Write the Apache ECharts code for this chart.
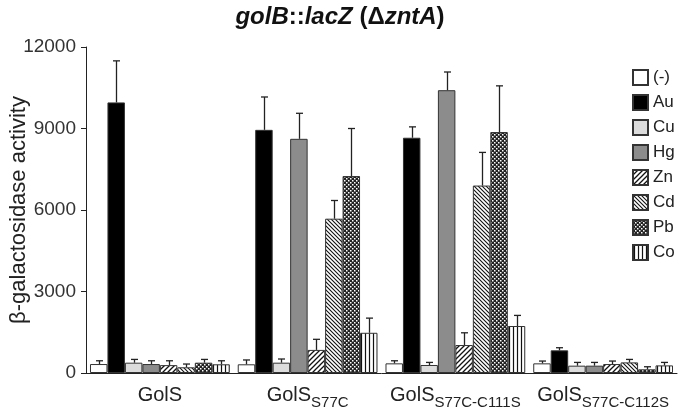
<!DOCTYPE html>
<html>
<head>
<meta charset="utf-8">
<script src="https://cdn.jsdelivr.net/npm/echarts@6/dist/echarts.min.js"></script>
<style>
  html, body { margin: 0; padding: 0; background: #fff; }
  #chart { width: 680px; height: 410px; }
</style>
</head>
<body>
<div id="chart"></div>
<script>
// groups (strain) -- the part after "_" is written as a subscript
var categories = ['GolS', 'GolS_S77C', 'GolS_S77C-C111S', 'GolS_S77C-C112S'];
var metals = ['(-)', 'Au', 'Cu', 'Hg', 'Zn', 'Cd', 'Pb', 'Co'];

// mean activity per group
var none = [330, 320, 355, 355];
var au = [9960, 8950, 8660, 835];
var cu = [380, 380, 295, 270];
var hg = [330, 8620, 10410, 270];
var zn = [290, 850, 1030, 330];
var cd = [210, 5680, 6900, 390];
var pb = [380, 7250, 8870, 135];
var co = [320, 1480, 1730, 280];

// standard deviation (upper error bar only)
var noneErr = [120, 160, 95, 85];
var auErr = [1530, 1210, 400, 95];
var cuErr = [120, 135, 95, 120];
var hgErr = [120, 940, 670, 120];
var znErr = [160, 390, 450, 110];
var cdErr = [120, 670, 1220, 110];
var pbErr = [120, 1750, 1700, 95];
var coErr = [130, 540, 390, 110];

var yTicks = [0, 3000, 6000, 9000, 12000];

var means = [none, au, cu, hg, zn, cd, pb, co];
var errs = [noneErr, auErr, cuErr, hgErr, znErr, cdErr, pbErr, coErr];

var FONT = '"Liberation Sans", Arial, sans-serif';
var GAP = 0.054;

function pattern(size, bg, draw) {
  var c = document.createElement('canvas');
  c.width = size; c.height = size;
  var ctx = c.getContext('2d');
  ctx.fillStyle = bg;
  ctx.fillRect(0, 0, size, size);
  ctx.strokeStyle = '#111';
  ctx.fillStyle = '#111';
  draw(ctx, size);
  return { image: c, repeat: 'repeat' };
}

// Zn: "/" lines
var znFill = pattern(5, '#fff', function (ctx, s) {
  ctx.lineWidth = 1.3;
  ctx.beginPath();
  ctx.moveTo(0, s); ctx.lineTo(s, 0);
  ctx.moveTo(-1, 1); ctx.lineTo(1, -1);
  ctx.moveTo(s - 1, s + 1); ctx.lineTo(s + 1, s - 1);
  ctx.stroke();
});
// Cd: "\" lines, denser
var cdFill = pattern(4, '#fff', function (ctx, s) {
  ctx.lineWidth = 1.1;
  ctx.beginPath();
  ctx.moveTo(0, 0); ctx.lineTo(s, s);
  ctx.moveTo(-1, s - 1); ctx.lineTo(1, s + 1);
  ctx.moveTo(s - 1, -1); ctx.lineTo(s + 1, 1);
  ctx.stroke();
});
// Pb: dark with small white dots
var pbFill = pattern(4, '#222', function (ctx, s) {
  ctx.fillStyle = '#fff';
  ctx.fillRect(0, 0, 1.5, 1.5);
  ctx.fillRect(2, 2, 1.5, 1.5);
});
// Co: vertical lines
var coFill = pattern(4, '#fff', function (ctx, s) {
  ctx.lineWidth = 1.2;
  ctx.beginPath();
  ctx.moveTo(1.5, 0); ctx.lineTo(1.5, s);
  ctx.stroke();
});

var fills = ['#ffffff', '#000000', '#dcdcdc', '#8c8c8c', znFill, cdFill, pbFill, coFill];

var series = metals.map(function (m, i) {
  return {
    name: m,
    type: 'bar',
    data: means[i],
    barGap: '0%',
    barCategoryGap: (GAP * 100) + '%',
    itemStyle: { color: fills[i], borderColor: '#333', borderWidth: 1 }
  };
});

var errData = [];
for (var k = 0; k < metals.length; k++) {
  for (var c = 0; c < categories.length; c++) {
    errData.push([c, k, means[k][c], errs[k][c]]);
  }
}

series.push({
  type: 'custom',
  name: 'err',
  z: 3,
  encode: { x: 0, y: 2 },
  data: errData,
  renderItem: function (params, api) {
    var cat = api.value(0), k = api.value(1), m = api.value(2), sd = api.value(3);
    var base = api.coord([cat, m]);
    var top = api.coord([cat, m + sd]);
    var band = api.size([1, 0])[0];
    var inner = band * (1 - GAP);
    var bw = inner / metals.length;
    var x = Math.round(base[0] - inner / 2 + (k + 0.5) * bw) + 0.5;
    var st = { stroke: '#222', lineWidth: 1.3 };
    return {
      type: 'group',
      children: [
        { type: 'line', shape: { x1: x, y1: base[1], x2: x, y2: top[1] }, style: st },
        { type: 'line', shape: { x1: x - 3.5, y1: top[1], x2: x + 3.5, y2: top[1] }, style: st }
      ]
    };
  }
});

var chart = echarts.init(document.getElementById('chart'));
chart.setOption({
  animation: false,
  backgroundColor: '#fff',
  title: {
    left: 'center',
    top: 0,
    text: '{i|golB}{b|::}{i|lacZ}{b| (Δ}{i|zntA}{b|)}',
    textStyle: {
      rich: {
        i: { fontFamily: FONT, fontSize: 24, fontWeight: 'bold', fontStyle: 'italic', color: '#111' },
        b: { fontFamily: FONT, fontSize: 24, fontWeight: 'bold', color: '#111' }
      }
    }
  },
  legend: {
    data: metals,
    orient: 'vertical',
    left: 627,
    top: 64,
    itemWidth: 15,
    itemHeight: 15,
    itemGap: 8,
    icon: 'rect',
    textStyle: { fontFamily: FONT, fontSize: 17, color: '#222' }
  },
  grid: { left: 86, right: 3, top: 47, bottom: 37, containLabel: false, outerBoundsMode: 'none' },
  xAxis: {
    type: 'category',
    data: categories,
    axisLine: { lineStyle: { color: '#222', width: 1 } },
    axisTick: { length: 7, lineStyle: { color: '#222' } },
    axisLabel: {
      interval: 0,
      margin: 8,
      formatter: function (v) {
        var p = v.split('_');
        return p.length > 1 ? '{m|' + p[0] + '}{s|' + p[1] + '}' : '{m|' + p[0] + '}';
      },
      rich: {
        m: { fontFamily: FONT, fontSize: 20, color: '#222', verticalAlign: 'bottom', lineHeight: 24 },
        s: { fontFamily: FONT, fontSize: 15, color: '#222', verticalAlign: 'bottom', lineHeight: 24, padding: [0, 0, -5, 0] }
      }
    }
  },
  yAxis: {
    type: 'value',
    min: yTicks[0],
    max: yTicks[yTicks.length - 1],
    interval: 3000,
    name: 'β-galactosidase activity',
    nameLocation: 'middle',
    nameGap: 56,
    nameMoveOverlap: false,
    nameTextStyle: { fontFamily: FONT, fontSize: 22, color: '#222' },
    axisLine: { show: true, lineStyle: { color: '#222', width: 1 } },
    axisTick: { show: true, length: 5, lineStyle: { color: '#222' } },
    splitLine: { show: false },
    axisLabel: {
      fontFamily: FONT, fontSize: 19, color: '#333', margin: 10,
      formatter: function (v) { return String(v); }
    }
  },
  series: series
});
</script>
</body>
</html>
